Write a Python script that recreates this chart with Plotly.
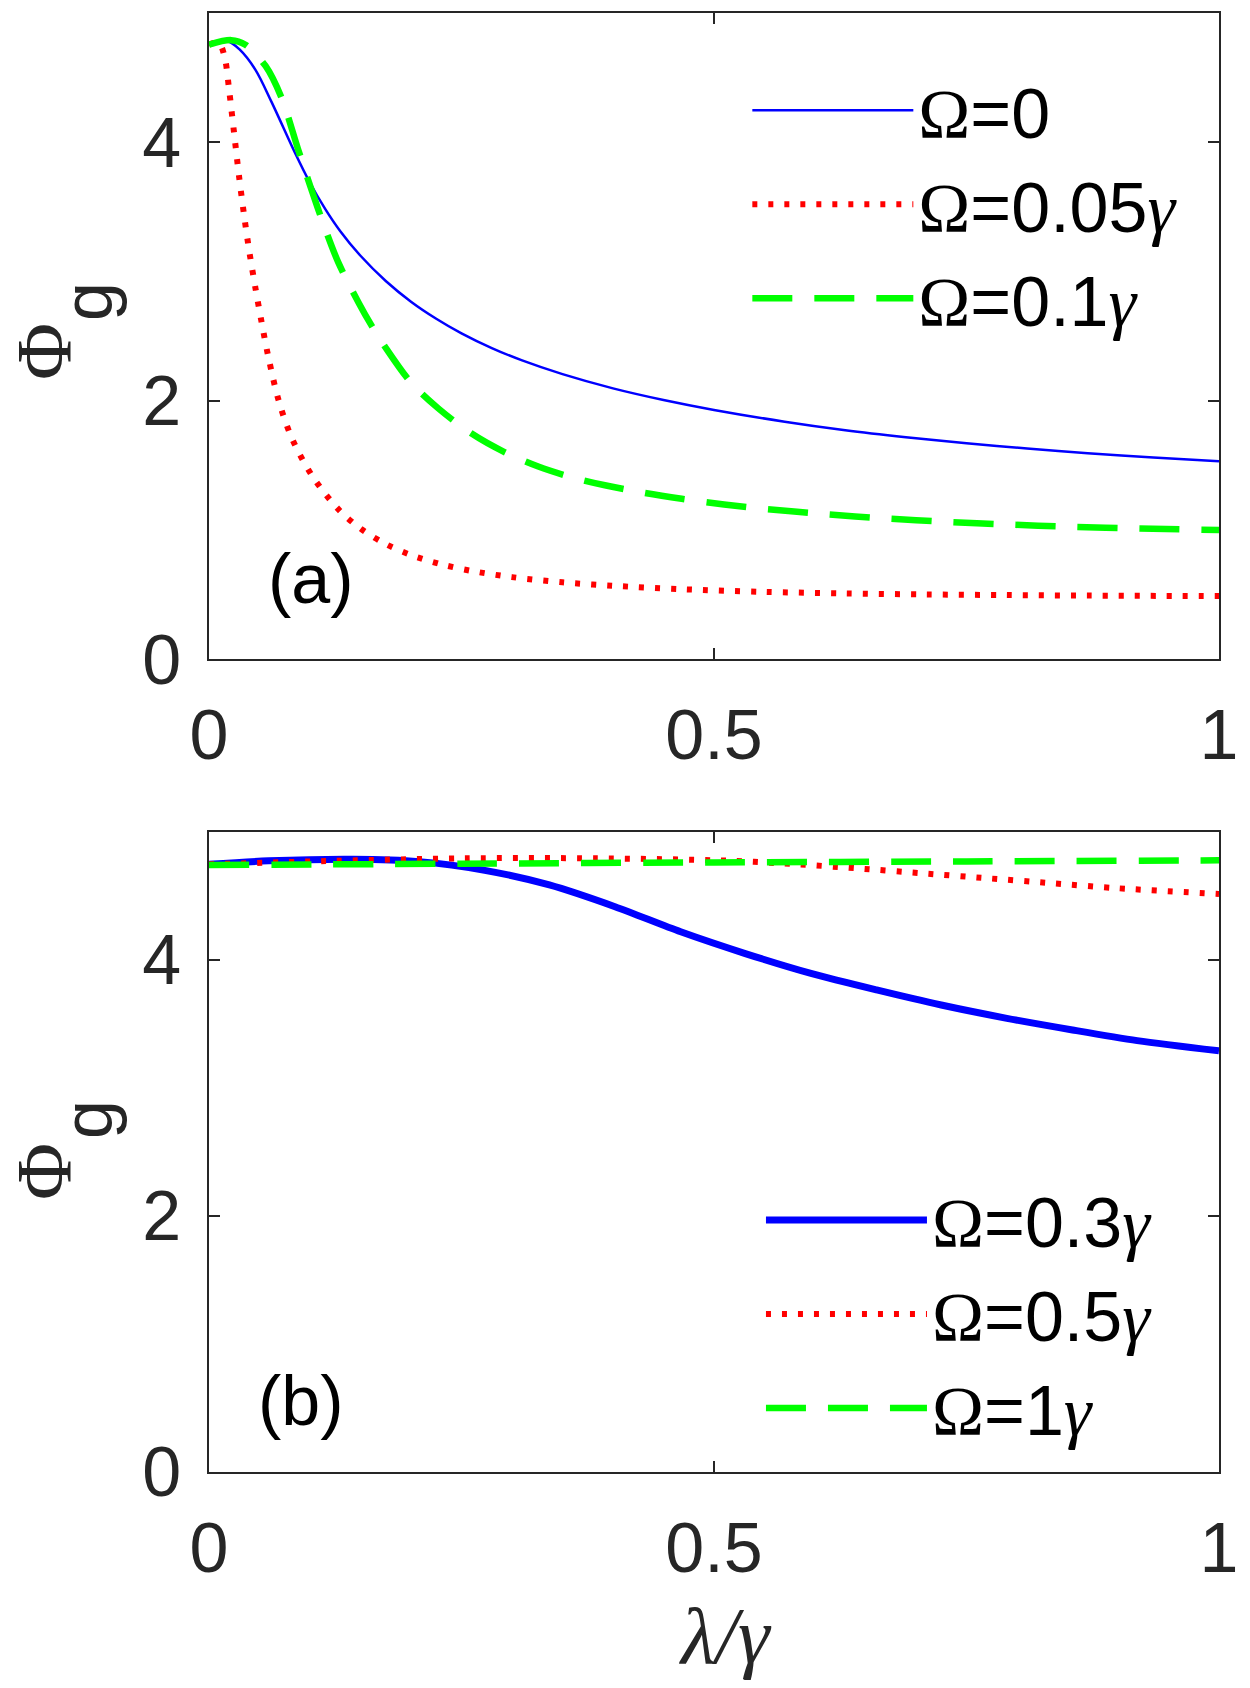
import plotly.graph_objects as go

# ---------------- data ----------------
# Panel (a)
a_x_om0 = [0, 0.019, 0.03, 0.046, 0.062, 0.085, 0.099, 0.115, 0.13, 0.15, 0.175, 0.2, 0.225,
           0.25, 0.28, 0.31, 0.35, 0.4, 0.45, 0.5, 0.57, 0.63, 0.69, 0.75, 0.81, 0.87, 0.935, 1.0]
a_y_om0 = [4.755, 4.78, 4.72, 4.56, 4.31, 3.92, 3.70, 3.484, 3.311, 3.121, 2.926, 2.766, 2.634,
           2.521, 2.407, 2.311, 2.205, 2.095, 2.005, 1.928, 1.837, 1.771, 1.717, 1.670, 1.629,
           1.593, 1.559, 1.530]

a_x_om005 = [0, 0.006, 0.011, 0.016, 0.02, 0.025, 0.03, 0.035, 0.04, 0.046, 0.052, 0.059, 0.069,
             0.082, 0.102, 0.128, 0.15, 0.175, 0.2, 0.23, 0.26, 0.3, 0.35, 0.4, 0.47, 0.55,
             0.63, 0.71, 0.79, 0.87, 1.0]
a_y_om005 = [4.755, 4.77, 4.755, 4.64, 4.40, 4.06, 3.72, 3.42, 3.15, 2.87, 2.61, 2.33, 2.0,
             1.71, 1.42, 1.16, 1.01, 0.89, 0.805, 0.733, 0.682, 0.634, 0.594, 0.567, 0.54, 0.52,
             0.508, 0.50, 0.495, 0.491, 0.487]

a_x_om01 = [0, 0.022, 0.036, 0.056, 0.072, 0.088, 0.102, 0.115, 0.128, 0.148, 0.161, 0.174,
            0.2, 0.227, 0.26, 0.293, 0.326, 0.36, 0.392, 0.43, 0.468, 0.51, 0.549, 0.61, 0.67,
            0.73, 0.791, 0.85, 0.913, 1.0]
a_y_om01 = [4.755, 4.79, 4.755, 4.59, 4.34, 3.95, 3.62, 3.33, 3.07, 2.76, 2.58, 2.42,
            2.14, 1.94, 1.745, 1.60, 1.49, 1.405, 1.345, 1.287, 1.24, 1.196, 1.163, 1.121, 1.088,
            1.062, 1.041, 1.025, 1.012, 0.998]

# Panel (b)
b_x_om03 = [0, 0.059, 0.143, 0.208, 0.273, 0.337, 0.402, 0.467, 0.531, 0.596, 0.661, 0.725,
            0.79, 0.855, 0.919, 1.0]
b_y_om03 = [4.747, 4.774, 4.787, 4.768, 4.70, 4.586, 4.416, 4.22, 4.05, 3.895, 3.766, 3.648,
            3.544, 3.453, 3.37, 3.29]

b_x_om05 = [0, 0.124, 0.253, 0.383, 0.512, 0.577, 0.641, 0.706, 0.771, 0.835, 0.9, 1.0]
b_y_om05 = [4.747, 4.774, 4.794, 4.794, 4.776, 4.75, 4.716, 4.677, 4.638, 4.599, 4.56, 4.516]

b_x_om1 = [0, 0.25, 0.5, 0.75, 1.0]
b_y_om1 = [4.742, 4.752, 4.762, 4.77, 4.778]

x_tickvals = [0, 0.5, 1]
x_ticktext = ["0", "0.5", "1"]
y_tickvals = [0, 2, 4]
y_ticktext = ["0", "2", "4"]

SERIF = "Liberation Serif"
SANS = "Liberation Sans"


def om_label(val, gamma=True):
    s = f"<span style='font-family:{SERIF}'>Ω</span>={val}"
    if gamma:
        s += f"<i><span style='font-family:{SERIF}'>γ</span></i>"
    return s


BLUE = "#0000FF"
RED = "#FF0000"
GREEN = "#00FF00"
DOT = "5px,11px"
DASH = "40px,22px"

fig = go.Figure()

# panel (a)
fig.add_trace(go.Scatter(x=a_x_om0, y=a_y_om0, mode="lines", name=om_label(0, False),
                         line=dict(color=BLUE, width=2.5, shape="spline", smoothing=0.9),
                         xaxis="x", yaxis="y", legend="legend"))
fig.add_trace(go.Scatter(x=a_x_om005, y=a_y_om005, mode="lines", name=om_label("0.05"),
                         line=dict(color=RED, width=6, dash=DOT, shape="spline", smoothing=0.9),
                         xaxis="x", yaxis="y", legend="legend"))
fig.add_trace(go.Scatter(x=a_x_om01, y=a_y_om01, mode="lines", name=om_label("0.1"),
                         line=dict(color=GREEN, width=6.5, dash=DASH, shape="spline", smoothing=0.9),
                         xaxis="x", yaxis="y", legend="legend"))

# panel (b)
fig.add_trace(go.Scatter(x=b_x_om03, y=b_y_om03, mode="lines", name=om_label("0.3"),
                         line=dict(color=BLUE, width=7, shape="spline", smoothing=0.8),
                         xaxis="x2", yaxis="y2", legend="legend2"))
fig.add_trace(go.Scatter(x=b_x_om05, y=b_y_om05, mode="lines", name=om_label("0.5"),
                         line=dict(color=RED, width=6, dash=DOT, shape="spline", smoothing=0.8),
                         xaxis="x2", yaxis="y2", legend="legend2"))
fig.add_trace(go.Scatter(x=b_x_om1, y=b_y_om1, mode="lines", name=om_label("1"),
                         line=dict(color=GREEN, width=6.5, dash=DASH, shape="spline", smoothing=0.8),
                         xaxis="x2", yaxis="y2", legend="legend2"))

AX = "#262626"
common_x = dict(range=[0, 1], tickvals=x_tickvals, ticktext=x_ticktext, ticks="inside",
                ticklen=11, tickwidth=1.5, tickcolor=AX, showline=True, linecolor=AX,
                linewidth=1.5, mirror="ticks", showgrid=False, zeroline=False,
                tickfont=dict(family=SANS, size=70, color=AX), ticklabelstandoff=14)
common_y = dict(range=[0, 5], tickvals=y_tickvals, ticktext=y_ticktext, ticks="inside",
                ticklen=11, tickwidth=1.5, tickcolor=AX, showline=True, linecolor=AX,
                linewidth=1.5, mirror="ticks", showgrid=False, zeroline=False,
                tickfont=dict(family=SANS, size=70, color=AX), ticklabelstandoff=12)

legend_common = dict(xanchor="left", yanchor="top", bgcolor="rgba(0,0,0,0)", borderwidth=0,
                     font=dict(family=SANS, size=70, color="black"), itemwidth=161,
                     tracegroupgap=0)

ann_font = dict(family=SANS, size=70, color="black")
annotations = [
    dict(text="(a)", x=0.101, y=0.612, xref="paper", yref="paper", showarrow=False,
         xanchor="center", yanchor="middle", font=ann_font),
    dict(text="(b)", x=0.091, y=0.049, xref="paper", yref="paper", showarrow=False,
         xanchor="center", yanchor="middle", font=ann_font),
    dict(text="<i>λ/γ</i>", x=0.511, y=-0.1125, xref="paper", yref="paper", showarrow=False,
         xanchor="center", yanchor="middle", font=dict(family=SERIF, size=80, color=AX)),
]
# y-axis labels Φ_g for both panels
for yc_phi, yc_g in [(352, 302), (1172, 1120)]:
    annotations.append(dict(text="Φ", x=(43 - 209) / 1010, y=(1472 - yc_phi) / 1459,
                            xref="paper", yref="paper", showarrow=False, textangle=-90,
                            xanchor="center", yanchor="middle",
                            font=dict(family=SERIF, size=78, color=AX)))
    annotations.append(dict(text="g", x=(88 - 209) / 1010, y=(1472 - yc_g) / 1459,
                            xref="paper", yref="paper", showarrow=False, textangle=-90,
                            xanchor="center", yanchor="middle",
                            font=dict(family=SANS, size=70, color=AX)))

fig.update_layout(
    width=1250, height=1688,
    margin=dict(l=209, r=31, t=13, b=216),
    paper_bgcolor="white", plot_bgcolor="white",
    xaxis=dict(domain=[0, 1], anchor="y", **common_x),
    yaxis=dict(domain=[0.5572, 1], anchor="x", **common_y),
    xaxis2=dict(domain=[0, 1], anchor="y2", **common_x),
    yaxis2=dict(domain=[0, 0.4387], anchor="x2", **common_y),
    legend=dict(x=0.533, y=0.969, **legend_common),
    legend2=dict(x=0.5465, y=0.2084, **legend_common),
    annotations=annotations,
    showlegend=True,
)

fig.write_html("out.html")
